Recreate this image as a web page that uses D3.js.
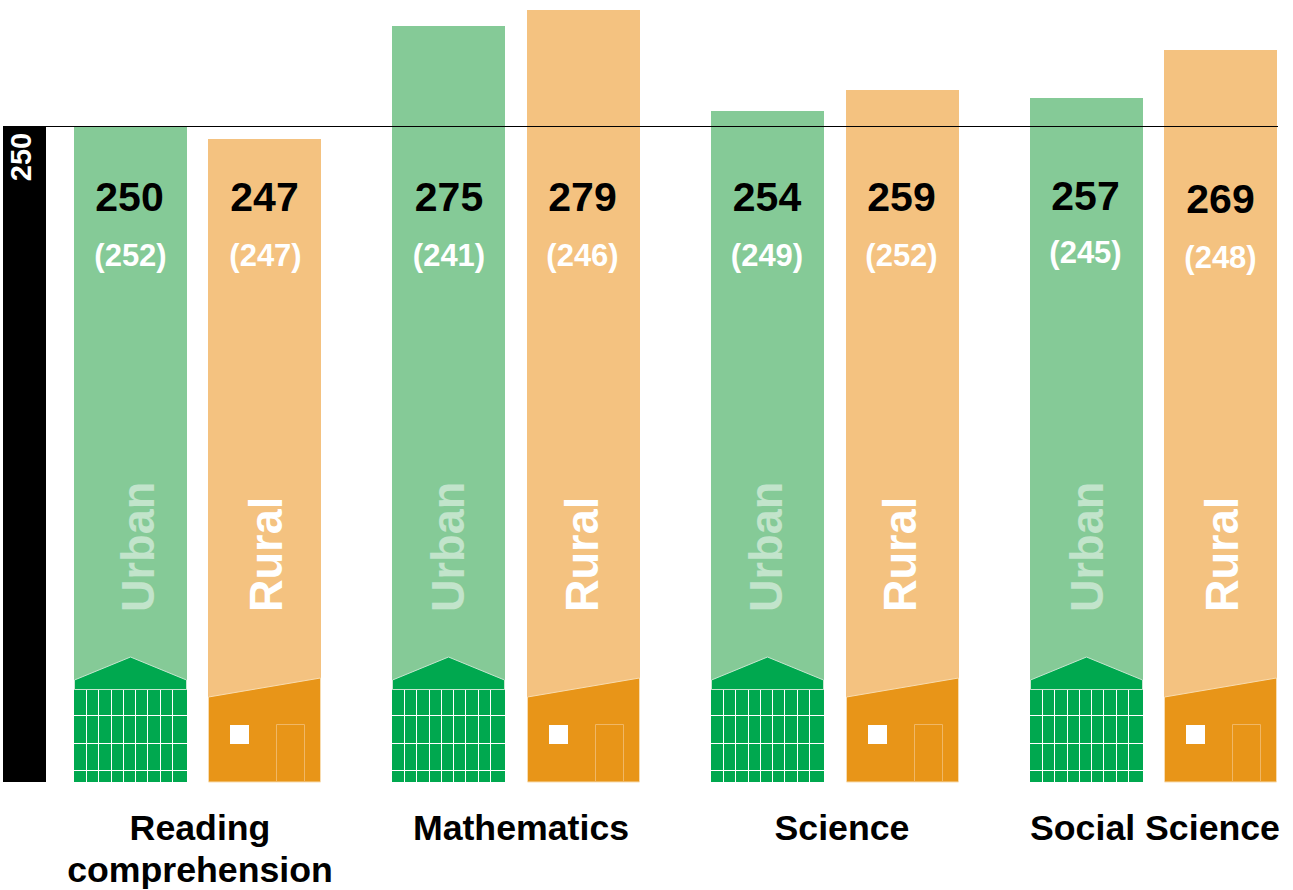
<!DOCTYPE html>
<html><head><meta charset="utf-8">
<script src="https://cdn.jsdelivr.net/npm/d3@7"></script>
<style>html,body{margin:0;padding:0;background:#fff}svg{display:block}text{font-family:"Liberation Sans",Arial,sans-serif;font-weight:bold}</style>
</head><body><div id="c"></div>
<script>
const subjects = ["Reading comprehension","Mathematics","Science","Social Science"];
const areas = ["Urban","Rural"];
const urbanValues = [250,275,254,257];
const ruralValues = [247,279,259,269];
const urbanPrevious = [252,241,249,245];
const ruralPrevious = [247,246,252,248];
const referenceValue = 250;
const subjectLabelLines = [["Reading","comprehension"],["Mathematics"],["Science"],["Social Science"]];

const W=1293,H=890, barW=113;
const colors={Urban:{light:"#85ca97",dark:"#00a84f",edge:"#c6e6cf"},Rural:{light:"#f4c280",dark:"#e89518",edge:"#f8dcb0"}};
const svg=d3.select("#c").append("svg").attr("width",W).attr("height",H);
const y=d3.scaleLinear().domain([87.4,279]).range([782,10]);
const snapY=v=>Math.floor(y(v)+0.3);
const xGroup=d3.scalePoint().domain(subjects).range([74,1030]);
const xArea=d3.scalePoint().domain(areas).range([0,134.5]);
const rows=subjects.flatMap((s,i)=>[
 {s,i,area:"Urban",v:urbanValues[i],p:urbanPrevious[i]},
 {s,i,area:"Rural",v:ruralValues[i],p:ruralPrevious[i]}]);
rows.forEach(d=>d.x=Math.round(xGroup(d.s)+xArea(d.area)-0.2));
const base=y.range()[0];
const refY=Math.floor(y(referenceValue))-0.5+1;

// bars
svg.selectAll("rect.bar").data(rows).join("rect").attr("class","bar")
 .attr("x",d=>d.x).attr("width",barW).attr("y",d=>snapY(d.v)).attr("height",d=>base-snapY(d.v))
 .attr("fill",d=>colors[d.area].light);

// reference column and line
svg.append("rect").attr("x",3).attr("width",43).attr("y",refY).attr("height",base-refY).attr("fill","#000");
svg.append("line").attr("x1",3).attr("x2",1278).attr("y1",refY).attr("y2",refY).attr("stroke","#000").attr("stroke-width",1);
svg.append("text").text(referenceValue).attr("transform",`translate(31,157) rotate(-90)`).attr("text-anchor","middle").attr("font-size",29).attr("fill","#fff");

// building icons
const vGrid=[12.5,24.5,37.5,49.5,61.5,73.5,86.5,98.5], hGrid=[715.5,743.5,770.5];
rows.filter(d=>d.area==="Urban").forEach(d=>{
 const g=svg.append("g").attr("transform",`translate(${d.x},0)`);
 g.append("polygon").attr("points",`0.5,680 56.5,657 112.5,680 112.5,689.5 0.5,689.5`).attr("fill",colors.Urban.dark).attr("stroke",colors.Urban.edge).attr("stroke-width",1);
 g.append("rect").attr("y",690).attr("width",barW).attr("height",92).attr("fill",colors.Urban.dark);
 vGrid.forEach(v=>g.append("line").attr("x1",v).attr("x2",v).attr("y1",690).attr("y2",782).attr("stroke","#fff").attr("stroke-width",1));
 hGrid.forEach(h=>g.append("line").attr("x1",0).attr("x2",barW).attr("y1",h).attr("y2",h).attr("stroke","#fff").attr("stroke-width",1));
});
// house icons
rows.filter(d=>d.area==="Rural").forEach(d=>{
 const g=svg.append("g").attr("transform",`translate(${d.x},0)`);
 g.append("polygon").attr("points",`0.5,697 112.5,678 112.5,782 0.5,782`).attr("fill",colors.Rural.dark).attr("stroke",colors.Rural.edge).attr("stroke-width",1);
 g.append("rect").attr("x",22).attr("y",725).attr("width",19).attr("height",19).attr("fill","#fff");
 g.append("path").attr("d","M68.5,782V724.5H96.5V782").attr("fill","none").attr("stroke","#f0b765").attr("stroke-width",1);
});

// labels
const valueNudge=[[-1,0],[0,0],[.5,0],[-1,0],[-.5,0],[-1,0],[-1,-1],[0,2]];
const prevNudge=[[0,0],[1,0],[.5,0],[-1,0],[-.5,0],[-1,0],[-1,-3],[0,2]];
const areaBaseline=[80.3,74.3,72,71.3,70.7,69.7,72.7,74.3];
svg.selectAll("text.val").data(rows).join("text").attr("class","val").text(d=>d.v)
 .attr("x",(d,i)=>d.x+barW/2+valueNudge[i][0]).attr("y",(d,i)=>211+valueNudge[i][1])
 .attr("text-anchor","middle").attr("font-size",41).attr("fill","#000");
svg.selectAll("text.prev").data(rows).join("text").attr("class","prev").text(d=>`(${d.p})`)
 .attr("x",(d,i)=>d.x+barW/2+prevNudge[i][0]).attr("y",(d,i)=>266+prevNudge[i][1])
 .attr("text-anchor","middle").attr("font-size",31).attr("fill","#fff");
svg.selectAll("text.area").data(rows).join("text").attr("class","area").text(d=>d.area)
 .attr("transform",(d,i)=>`translate(${d.x+areaBaseline[i]},612) rotate(-90) scale(0.96,1)`)
 .attr("font-size",47).attr("fill","#fff").attr("fill-opacity",d=>d.area==="Urban"?0.5:1);

// subject labels
const labelX=[200,521,842,1155];
subjects.forEach((s,i)=>{
 subjectLabelLines[i].forEach((l,j)=>svg.append("text").text(l).attr("x",labelX[i]).attr("y",840+j*42)
  .attr("text-anchor","middle").attr("font-size",35.7).attr("fill","#000"));
});
</script></body></html>
